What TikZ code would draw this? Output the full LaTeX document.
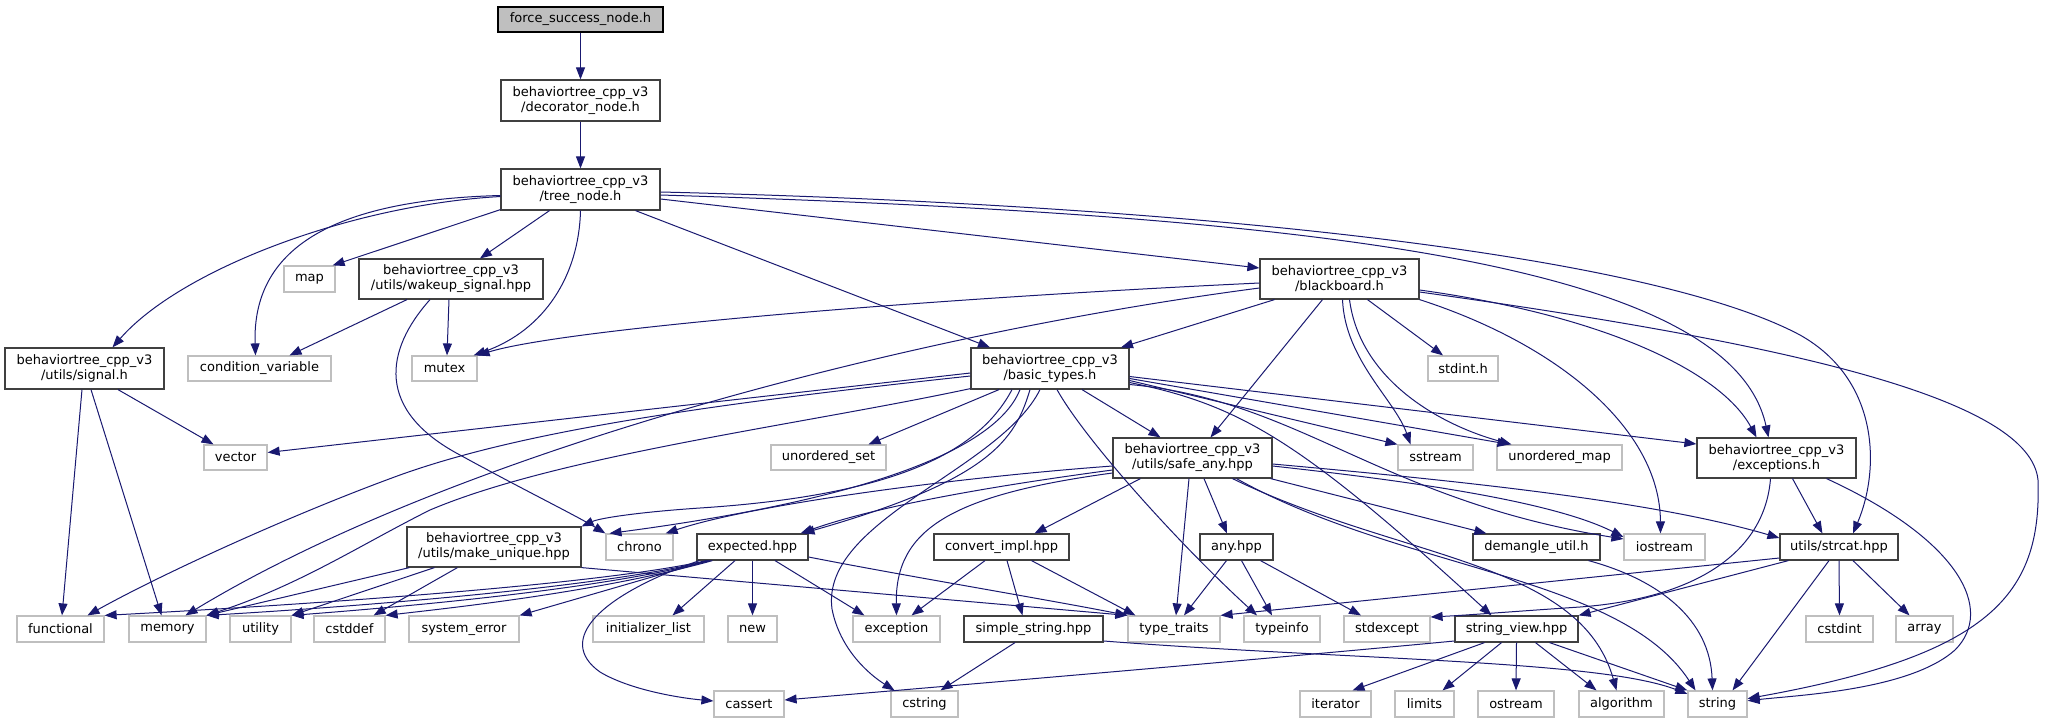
\documentclass[tikz,border=0pt]{standalone}
\usepackage{fontspec}
\setmainfont{DejaVu Sans}
\usetikzlibrary{arrows.meta,calc}
\definecolor{edgec}{HTML}{191970}
\definecolor{sysc}{HTML}{BFBFBF}
\definecolor{boxc}{HTML}{404040}
\begin{document}
\begin{tikzpicture}[x=1pt,y=-1pt,
  every node/.style={font=\fontsize{13}{15}\selectfont, inner sep=0pt, align=center},
  hdr/.style={draw=boxc, line width=1.2pt, fill=white},
  rootbox/.style={draw=black, line width=1.2pt, fill=sysc},
  sys/.style={draw=sysc, line width=1.2pt, fill=white},
  e/.style={draw=edgec, line width=1pt, -{Triangle[length=12pt,width=9pt]}},
]
\useasboundingbox (0,0) rectangle (2046,723);
% row 0-2
\node[rootbox, minimum width=165pt, minimum height=25pt] (root) at (580.5,19.5) {force\_success\_node.h};
\node[hdr, minimum width=159pt, minimum height=41pt] (deco) at (580.5,100.5) {behaviortree\_cpp\_v3\\/decorator\_node.h};
\node[hdr, minimum width=159pt, minimum height=41pt] (tree) at (580.5,189.5) {behaviortree\_cpp\_v3\\/tree\_node.h};
% row 3
\node[sys, minimum width=51pt, minimum height=26pt] (map) at (309.5,279) {map};
\node[hdr, minimum width=184pt, minimum height=40pt] (wake) at (451,279) {behaviortree\_cpp\_v3\\/utils/wakeup\_signal.hpp};
\node[hdr, minimum width=159pt, minimum height=40pt] (bb) at (1339.5,279) {behaviortree\_cpp\_v3\\/blackboard.h};
% row 4
\node[hdr, minimum width=159pt, minimum height=41pt] (sig) at (84.5,368.5) {behaviortree\_cpp\_v3\\/utils/signal.h};
\node[sys, minimum width=143pt, minimum height=25pt] (cv) at (259.5,368.5) {condition\_variable};
\node[sys, minimum width=65pt, minimum height=25pt] (mutex) at (444.5,368.5) {mutex};
\node[hdr, minimum width=158pt, minimum height=41pt] (bt) at (1050,368.5) {behaviortree\_cpp\_v3\\/basic\_types.h};
\node[sys, minimum width=70pt, minimum height=25pt] (stdint) at (1463,368.5) {stdint.h};
% row 5
\node[sys, minimum width=63pt, minimum height=25pt] (vector) at (235.5,457.5) {vector};
\node[sys, minimum width=115pt, minimum height=25pt] (uset) at (828.5,457.5) {unordered\_set};
\node[hdr, minimum width=159pt, minimum height=40pt] (safe) at (1192.5,458) {behaviortree\_cpp\_v3\\/utils/safe\_any.hpp};
\node[sys, minimum width=75pt, minimum height=25pt] (sstream) at (1435.5,457.5) {sstream};
\node[sys, minimum width=125pt, minimum height=25pt] (umap) at (1559.5,457.5) {unordered\_map};
\node[hdr, minimum width=159pt, minimum height=40pt] (exc) at (1776.5,458) {behaviortree\_cpp\_v3\\/exceptions.h};
% row 6
\node[hdr, minimum width=174pt, minimum height=40pt] (mu) at (494,547) {behaviortree\_cpp\_v3\\/utils/make\_unique.hpp};
\node[sys, minimum width=67pt, minimum height=26pt] (chrono) at (639.5,547) {chrono};
\node[hdr, minimum width=111pt, minimum height=26pt] (expected) at (752.5,547) {expected.hpp};
\node[hdr, minimum width=135pt, minimum height=26pt] (conv) at (1001.5,547) {convert\_impl.hpp};
\node[hdr, minimum width=73pt, minimum height=26pt] (any) at (1236.5,547) {any.hpp};
\node[hdr, minimum width=127pt, minimum height=26pt] (dem) at (1536.5,547) {demangle\_util.h};
\node[sys, minimum width=81pt, minimum height=26pt] (iostream) at (1664.5,547) {iostream};
\node[hdr, minimum width=118pt, minimum height=26pt] (strcat) at (1839,547) {utils/strcat.hpp};
% row 7
\node[sys, minimum width=87pt, minimum height=26pt] (functional) at (60.5,629) {functional};
\node[sys, minimum width=77pt, minimum height=26pt] (memory) at (167.5,629) {memory};
\node[sys, minimum width=61pt, minimum height=26pt] (utility) at (260.5,629) {utility};
\node[sys, minimum width=71pt, minimum height=26pt] (cstddef) at (349.5,629) {cstddef};
\node[sys, minimum width=110pt, minimum height=26pt] (syserr) at (464,629) {system\_error};
\node[sys, minimum width=111pt, minimum height=26pt] (initlist) at (648.5,629) {initializer\_list};
\node[sys, minimum width=49pt, minimum height=26pt] (new) at (752.5,629) {new};
\node[sys, minimum width=87pt, minimum height=26pt] (exception) at (896.5,629) {exception};
\node[hdr, minimum width=139pt, minimum height=26pt] (simple) at (1033.5,629) {simple\_string.hpp};
\node[sys, minimum width=92pt, minimum height=26pt] (tt) at (1174,629) {type\_traits};
\node[sys, minimum width=76pt, minimum height=26pt] (typeinfo) at (1282,629) {typeinfo};
\node[sys, minimum width=86pt, minimum height=26pt] (stdexcept) at (1387,629) {stdexcept};
\node[hdr, minimum width=123pt, minimum height=26pt] (sv) at (1516.5,629) {string\_view.hpp};
\node[sys, minimum width=67pt, minimum height=26pt] (cstdint) at (1839.5,629) {cstdint};
\node[sys, minimum width=57pt, minimum height=26pt] (array) at (1924.5,629) {array};
% row 8
\node[sys, minimum width=70pt, minimum height=26pt] (cassert) at (749,704) {cassert};
\node[sys, minimum width=67pt, minimum height=26pt] (cstring) at (924.5,704) {cstring};
\node[sys, minimum width=71pt, minimum height=26pt] (iterator) at (1335.5,704) {iterator};
\node[sys, minimum width=59pt, minimum height=26pt] (limits) at (1424.5,704) {limits};
\node[sys, minimum width=76pt, minimum height=26pt] (ostream) at (1516,704) {ostream};
\node[sys, minimum width=85pt, minimum height=26pt] (algorithm) at (1621.5,704) {algorithm};
\node[sys, minimum width=59pt, minimum height=26pt] (string) at (1717.5,704) {string};

% ---- edges ----
\draw[e] (root) -- (deco);
\draw[e] (deco) -- (tree);
% tree_node
\draw[e] ($(tree.west)+(0,7)$) .. controls (350,205) and (180,270) .. ($(sig.north)+(28,0)$);
\draw[e] ($(tree.west)+(0,6)$) .. controls (330,200) and (252,250) .. ($(cv.north)+(-4,0)$);
\draw[e] ($(tree.south west)+(0,-1)$) -- ($(map.north east)+(-3,0)$);
\draw[e] ($(tree.south)+(-31,0)$) -- ($(wake.north)+(29,0)$);
\draw[e] (tree.south) .. controls (579,275) and (545,330) .. ($(mutex.north east)+(-4,0)$);
\draw[e] ($(tree.south)+(55,0)$) -- ($(bt.north)+(-60,0)$);
\draw[e] ($(tree.east)+(0,9.5)$) -- ($(bb.west)+(0,-11)$);
\draw[e] ($(tree.east)+(0,5.5)$) .. controls (1300,215) and (1730,260) .. ($(exc.north)+(-8,0)$);
\draw[e] ($(tree.east)+(0,2.5)$) .. controls (1200,205) and (1650,255) .. (1800,335) .. controls (1880,380) and (1880,470) .. ($(strcat.north)+(14,0)$);
% blackboard
\draw[e] ($(bb.west)+(0,4)$) .. controls (900,300) and (560,330) .. (mutex.north east);
\draw[e] ($(bb.west)+(0,9)$) .. controls (900,335) and (450,455) .. ($(memory.north)+(18,0)$);
\draw[e] ($(bb.south)+(-65,0)$) -- ($(bt.north)+(71,0)$);
\draw[e] ($(bb.south)+(-17,0)$) -- ($(safe.north)+(18,0)$);
\draw[e] ($(bb.south)+(3,0)$) .. controls (1345,360) and (1395,400) .. ($(sstream.north)+(-25,0)$);
\draw[e] ($(bb.south)+(10,0)$) .. controls (1360,380) and (1440,425) .. ($(umap.north)+(-48,0)$);
\draw[e] ($(bb.south)+(28,0)$) -- ($(stdint.north)+(-20,0)$);
\draw[e] (bb.south east) .. controls (1560,345) and (1660,430) .. ($(iostream.north)+(-4,0)$);
\draw[e] ($(bb.east)+(0,11)$) .. controls (1600,315) and (1720,370) .. ($(exc.north)+(-20,0)$);
\draw[e] ($(bb.east)+(0,13)$) .. controls (1800,345) and (2030,400) .. (2038,480) .. controls (2042,595) and (1990,655) .. (string);
% wakeup_signal
\draw[e] ($(wake.south)+(-44,0)$) -- ($(cv.north)+(30,0)$);
\draw[e] ($(wake.south)+(-2,0)$) -- ($(mutex.north)+(2.5,0)$);
\draw[e] ($(wake.south)+(-21,0)$) .. controls (385,350) and (375,410) .. (460,455) .. controls (520,488) and (575,515) .. (chrono.north west);
% signal
\draw[e] ($(sig.south)+(-2.5,0)$) -- ($(functional.north)+(1.5,0)$);
\draw[e] ($(sig.south)+(6.5,0)$) -- ($(memory.north)+(-6,0)$);
\draw[e] ($(sig.south)+(33.5,0)$) -- ($(vector.north)+(-22,0)$);
% basic_types
\draw[e] ($(bt.west)+(0,4.5)$) -- ($(vector.east)+(0,-5)$);
\draw[e] ($(bt.west)+(0,7.5)$) .. controls (700,405) and (520,432) .. (400,475) .. controls (290,515) and (160,575) .. ($(functional.north)+(27,0)$);
\draw[e] ($(bt.south west)+(0,-1)$) .. controls (800,425) and (560,455) .. (430,510) .. controls (360,545) and (300,585) .. (memory.north east);
\draw[e] ($(bt.south)+(-51,0)$) -- ($(uset.north)+(40,0)$);
\draw[e] ($(bt.south)+(-38,0)$) .. controls (980,450) and (900,495) .. (700,508) .. controls (640,512) and (600,518) .. (mu.north east);
\draw[e] ($(bt.south)+(-30,0)$) .. controls (1000,440) and (900,495) .. ($(chrono.north)+(-30,0)$);
\draw[e] ($(bt.south)+(-20,0)$) .. controls (1015,440) and (990,480) .. ($(expected.north)+(50,0)$);
\draw[e] ($(bt.south)+(-10,0)$) .. controls (1000,470) and (820,520) .. (832,609) .. controls (840,650) and (870,675) .. ($(cstring.north)+(-30,0)$);
\draw[e] ($(bt.south)+(32,0)$) -- ($(safe.north)+(-32,0)$);
\draw[e] ($(bt.south)+(7,0)$) .. controls (1085,440) and (1180,545) .. ($(typeinfo.north)+(-25,0)$);
\draw[e] ($(bt.east)+(0,8)$) -- ($(exc.west)+(0,-14)$);
\draw[e] ($(bt.east)+(0,10)$) -- ($(umap.north)+(-50,0)$);
\draw[e] ($(bt.east)+(0,12)$) -- (sstream.north west);
\draw[e] ($(bt.east)+(0,14)$) .. controls (1240,405) and (1300,440) .. ($(sv.north)+(-25,0)$);
\draw[e] ($(bt.east)+(0,16)$) .. controls (1300,400) and (1380,500) .. ($(iostream.west)+(0,-8)$);
% safe_any
\draw[e] ($(safe.west)+(0,8)$) .. controls (950,478) and (750,505) .. ($(chrono.north east)+(-8,0)$);
\draw[e] ($(safe.west)+(0,12)$) .. controls (1000,485) and (880,505) .. ($(expected.north)+(48,0)$);
\draw[e] ($(safe.west)+(0,15)$) .. controls (950,495) and (895,530) .. (exception.north);
\draw[e] ($(safe.south west)+(28,0)$) -- ($(conv.north)+(33,0)$);
\draw[e] ($(safe.south)+(-3.5,0)$) -- ($(tt.north)+(2,0)$);
\draw[e] ($(safe.south)+(11.5,0)$) -- ($(any.north)+(-9.5,0)$);
\draw[e] ($(safe.south east)+(-2,0)$) -- ($(dem.north west)+(14,0)$);
\draw[e] ($(safe.south)+(40,0)$) .. controls (1400,560) and (1580,560) .. ($(algorithm.north)+(-5,0)$);
\draw[e] ($(safe.south)+(44,0)$) .. controls (1400,570) and (1620,575) .. ($(string.north)+(-22,0)$);
\draw[e] ($(safe.east)+(0,8)$) .. controls (1400,480) and (1550,500) .. ($(iostream.west)+(0,-10)$);
\draw[e] ($(safe.east)+(0,6)$) .. controls (1450,480) and (1650,500) .. ($(strcat.west)+(0,-9)$);
% convert_impl
\draw[e] ($(conv.south)+(-16.5,0)$) -- ($(exception.north)+(15,0)$);
\draw[e] ($(conv.south)+(5.5,0)$) -- ($(simple.north)+(-11,0)$);
\draw[e] ($(conv.south)+(30,0)$) -- ($(tt.north west)+(8,0)$);
% any
\draw[e] ($(any.south)+(-10,0)$) -- ($(tt.north)+(10,0)$);
\draw[e] ($(any.south)+(5,0)$) -- ($(typeinfo.north)+(-10,0)$);
\draw[e] ($(any.south)+(24,0)$) -- ($(stdexcept.north)+(-26,0)$);
% demangle
\draw[e] ($(dem.south)+(52,0)$) .. controls (1660,580) and (1710,620) .. ($(string.north)+(-5,0)$);
% strcat
\draw[e] ($(strcat.south west)+(9,0)$) -- (sv.north east);
\draw[e] ($(strcat.west)+(0,11)$) -- (tt.north east);
\draw[e] ($(strcat.south)+(-10,0)$) -- ($(string.north)+(15,0)$);
\draw[e] (strcat.south) -- (cstdint.north);
\draw[e] ($(strcat.south)+(14,0)$) -- ($(array.north)+(-15,0)$);
% exceptions
\draw[e] ($(exc.south)+(16,0)$) -- ($(strcat.north west)+(43,0)$);
\draw[e] ($(exc.south)+(-6,0)$) .. controls (1765,550) and (1700,598) .. (1580,607) .. controls (1520,611) and (1470,615) .. ($(stdexcept.east)+(0,-12)$);
\draw[e] ($(exc.south)+(50,0)$) .. controls (1960,540) and (1995,610) .. (1955,650) .. controls (1910,690) and (1800,695) .. (string);
% string_view
\draw[e] ($(sv.south)+(-32,0)$) -- ($(iterator.north)+(17,0)$);
\draw[e] ($(sv.south)+(-15,0)$) -- ($(limits.north)+(18,0)$);
\draw[e] (sv.south) -- (ostream.north);
\draw[e] ($(sv.south)+(19,0)$) -- ($(algorithm.north)+(-25,0)$);
\draw[e] ($(sv.south east)+(-29,0)$) -- (string.north west);
\draw[e] ($(sv.west)+(0,12)$) .. controls (1200,665) and (900,690) .. ($(cassert.east)+(0,-4)$);
% simple_string
\draw[e] ($(simple.east)+(0,12)$) .. controls (1350,660) and (1600,660) .. ($(string.west)+(0,-10)$);
\draw[e] ($(simple.south)+(-18.5,0)$) -- ($(cstring.north)+(16,0)$);
% expected
\draw[e] ($(expected.south west)+(10,0)$) .. controls (600,585) and (300,605) .. (functional.north east);
\draw[e] ($(expected.south west)+(12,0)$) .. controls (600,588) and (350,607) .. (memory.north east);
\draw[e] ($(expected.south west)+(14,0)$) .. controls (600,590) and (400,607) .. (utility.north east);
\draw[e] ($(expected.south west)+(16,0)$) .. controls (600,592) and (450,608) .. (cstddef.north east);
\draw[e] ($(expected.south west)+(12,0)$) -- (syserr.north east);
\draw[e] ($(expected.south)+(-17.5,0)$) -- ($(initlist.north)+(24,0)$);
\draw[e] (expected.south) -- (new.north);
\draw[e] ($(expected.south)+(22.5,0)$) -- ($(exception.north west)+(12,0)$);
\draw[e] ($(expected.east)+(0,10)$) .. controls (900,575) and (1050,600) .. (tt.north west);
\draw[e] ($(expected.south west)+(3,0)$) .. controls (600,595) and (555,640) .. (600,672) .. controls (630,690) and (680,698) .. ($(cassert.west)+(0,-3)$);
% make_unique
\draw[e] ($(mu.south west)+(3,0)$) -- (memory.north east);
\draw[e] ($(mu.south west)+(28,0)$) -- (utility.north east);
\draw[e] ($(mu.south west)+(51,0)$) -- ($(cstddef.north east)+(-12,0)$);
\draw[e] (mu.south east) -- (tt.north west);
\end{tikzpicture}
\end{document}
